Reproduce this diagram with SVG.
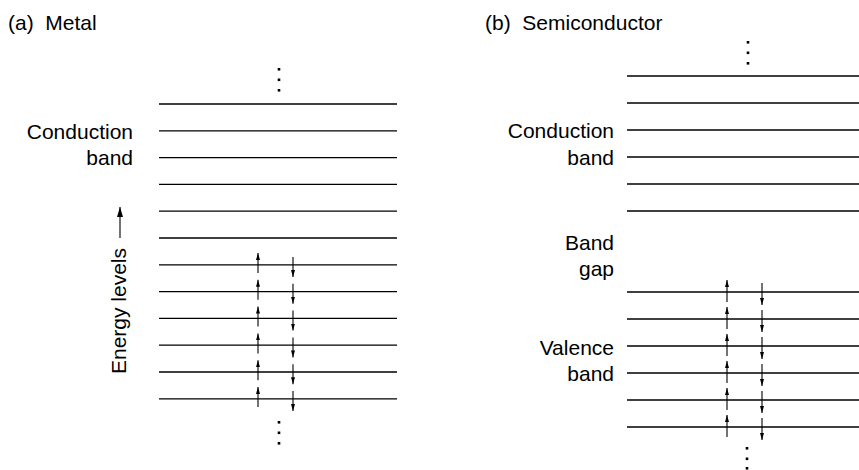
<svg xmlns="http://www.w3.org/2000/svg" width="859" height="470" viewBox="0 0 859 470">
<style>
text{font-family:"Liberation Sans",Arial,sans-serif;font-size:21px;fill:#000}
.lvl{stroke:#000;stroke-width:1.3}
.arr{stroke:#000;stroke-width:1.1}
.r{text-anchor:end}
</style>
<defs>
<marker id="ah" viewBox="0 0 7 4" refX="7" refY="2" markerWidth="7" markerHeight="4" markerUnits="userSpaceOnUse" orient="auto"><path d="M0,0 L7,2 L0,4 Z" fill="#000"/></marker>
<marker id="ah2" viewBox="0 0 10 6" refX="10" refY="3" markerWidth="10" markerHeight="6" markerUnits="userSpaceOnUse" orient="auto"><path d="M0,0 L10,3 L0,6 Z" fill="#000"/></marker>
</defs>
<g id="metal">
<text x="8" y="30" xml:space="preserve">(a)  Metal</text>
<g id="metal-levels" class="lvl">
<line x1="159" y1="104" x2="397" y2="104"/>
<line x1="159" y1="130.8" x2="397" y2="130.8"/>
<line x1="159" y1="157.6" x2="397" y2="157.6"/>
<line x1="159" y1="184.4" x2="397" y2="184.4"/>
<line x1="159" y1="211.2" x2="397" y2="211.2"/>
<line x1="159" y1="238" x2="397" y2="238"/>
<line x1="159" y1="264.8" x2="397" y2="264.8"/>
<line x1="159" y1="291.6" x2="397" y2="291.6"/>
<line x1="159" y1="318.4" x2="397" y2="318.4"/>
<line x1="159" y1="345.2" x2="397" y2="345.2"/>
<line x1="159" y1="372" x2="397" y2="372"/>
<line x1="159" y1="398.8" x2="397" y2="398.8"/>
</g>
<text class="r" x="133" y="139">Conduction</text>
<text class="r" x="133" y="165">band</text>
<g id="metal-dots" fill="#000">
<rect x="277.7" y="68" width="2.6" height="2.6"/>
<rect x="277.7" y="78.5" width="2.6" height="2.6"/>
<rect x="277.7" y="89" width="2.6" height="2.6"/>
<rect x="277.7" y="421" width="2.6" height="2.6"/>
<rect x="277.7" y="431.5" width="2.6" height="2.6"/>
<rect x="277.7" y="442" width="2.6" height="2.6"/>
</g>
<g id="metal-electrons" class="arr" marker-end="url(#ah)">
<line x1="258" y1="273" x2="258" y2="253"/>
<line x1="258" y1="299.8" x2="258" y2="279.8"/>
<line x1="258" y1="326.6" x2="258" y2="306.6"/>
<line x1="258" y1="353.4" x2="258" y2="333.4"/>
<line x1="258" y1="380.2" x2="258" y2="360.2"/>
<line x1="258" y1="407" x2="258" y2="387"/>
<line x1="293" y1="257" x2="293" y2="277"/>
<line x1="293" y1="283.8" x2="293" y2="303.8"/>
<line x1="293" y1="310.6" x2="293" y2="330.6"/>
<line x1="293" y1="337.4" x2="293" y2="357.4"/>
<line x1="293" y1="364.2" x2="293" y2="384.2"/>
<line x1="293" y1="391" x2="293" y2="411"/>
</g>
<g id="energy-axis">
<text transform="translate(126,311) rotate(-90)" text-anchor="middle">Energy levels</text>
<line class="arr" x1="120" y1="238" x2="120" y2="207" marker-end="url(#ah2)"/>
</g>
</g>
<g id="semiconductor">
<text x="485" y="30" xml:space="preserve">(b)  Semiconductor</text>
<g id="semi-conduction-levels" class="lvl">
<line x1="627" y1="76" x2="859" y2="76"/>
<line x1="627" y1="103" x2="859" y2="103"/>
<line x1="627" y1="130" x2="859" y2="130"/>
<line x1="627" y1="157" x2="859" y2="157"/>
<line x1="627" y1="184" x2="859" y2="184"/>
<line x1="627" y1="211" x2="859" y2="211"/>
</g>
<g id="semi-valence-levels" class="lvl">
<line x1="627" y1="292" x2="859" y2="292"/>
<line x1="627" y1="319" x2="859" y2="319"/>
<line x1="627" y1="346" x2="859" y2="346"/>
<line x1="627" y1="373" x2="859" y2="373"/>
<line x1="627" y1="400" x2="859" y2="400"/>
<line x1="627" y1="427" x2="859" y2="427"/>
</g>
<text class="r" x="614" y="138">Conduction</text>
<text class="r" x="614" y="165">band</text>
<text class="r" x="614" y="250">Band</text>
<text class="r" x="614" y="276">gap</text>
<text class="r" x="614" y="355">Valence</text>
<text class="r" x="614" y="381">band</text>
<g id="semi-dots" fill="#000">
<rect x="746.7" y="41" width="2.6" height="2.6"/>
<rect x="746.7" y="51.5" width="2.6" height="2.6"/>
<rect x="746.7" y="62" width="2.6" height="2.6"/>
<rect x="745.7" y="447" width="2.6" height="2.6"/>
<rect x="745.7" y="457.5" width="2.6" height="2.6"/>
<rect x="745.7" y="467" width="2.6" height="2.6"/>
</g>
<g id="semi-electrons" class="arr" marker-end="url(#ah)">
<line x1="727" y1="302" x2="727" y2="280"/>
<line x1="727" y1="329" x2="727" y2="307"/>
<line x1="727" y1="356" x2="727" y2="334"/>
<line x1="727" y1="383" x2="727" y2="361"/>
<line x1="727" y1="410" x2="727" y2="388"/>
<line x1="727" y1="437" x2="727" y2="415"/>
<line x1="762" y1="283" x2="762" y2="305"/>
<line x1="762" y1="310" x2="762" y2="332"/>
<line x1="762" y1="337" x2="762" y2="359"/>
<line x1="762" y1="364" x2="762" y2="386"/>
<line x1="762" y1="391" x2="762" y2="413"/>
<line x1="762" y1="418" x2="762" y2="440"/>
</g>
</g>
</svg>
